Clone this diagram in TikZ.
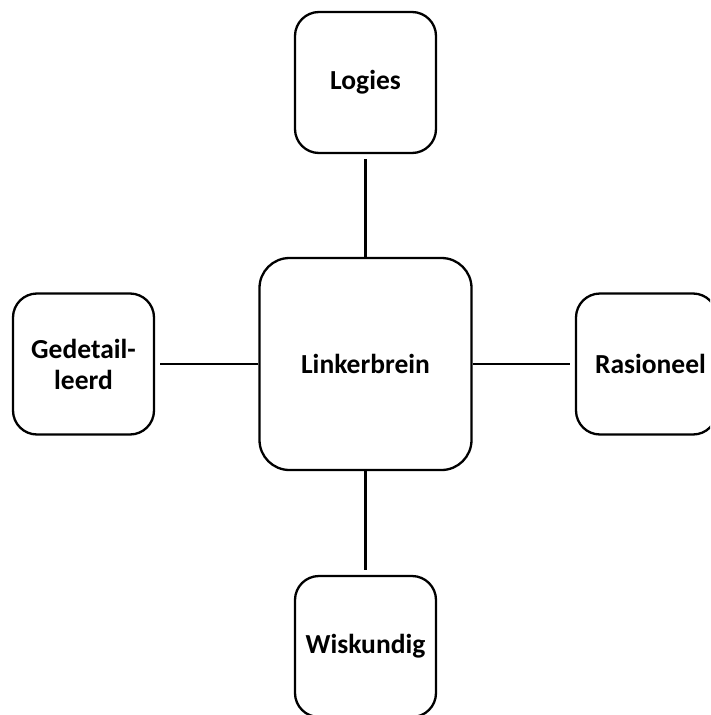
\documentclass[tikz,border=0pt]{standalone}
\usepackage{fontspec}
\setmainfont{Carlito}
\begin{document}
\begin{tikzpicture}[x=1pt,y=-1pt,
  box/.style={draw=black, line width=2.3pt, fill=white, rounded corners=24pt,
    minimum width=141pt, minimum height=141pt, align=center, inner sep=0pt,
    font=\fontsize{27.5}{31}\selectfont\bfseries},
  bigbox/.style={box, rounded corners=30pt, minimum width=212pt, minimum height=212pt},
  link/.style={draw=black, line width=2.3pt}]
\path[use as bounding box, clip] (0,0) rectangle (710,715);
\node[bigbox] (c) at (365.5,364) {Linkerbrein};
\node[box] (t) at (365.5,82.5) {Logies};
\node[box] (l) at (83.5,364) {Gedetail-\\leerd};
\node[box] (r) at (646.5,364) {\hspace{8pt}Rasioneel};
\node[box] (b) at (365.5,646.5) {Wiskundig};
\draw[link, shorten >=5pt] (c.north) -- (t.south);
\draw[link, shorten >=5pt] (c.south) -- (b.north);
\draw[link, shorten >=5pt] (c.west) -- (l.east);
\draw[link, shorten >=5pt] (c.east) -- (r.west);
\end{tikzpicture}
\end{document}
